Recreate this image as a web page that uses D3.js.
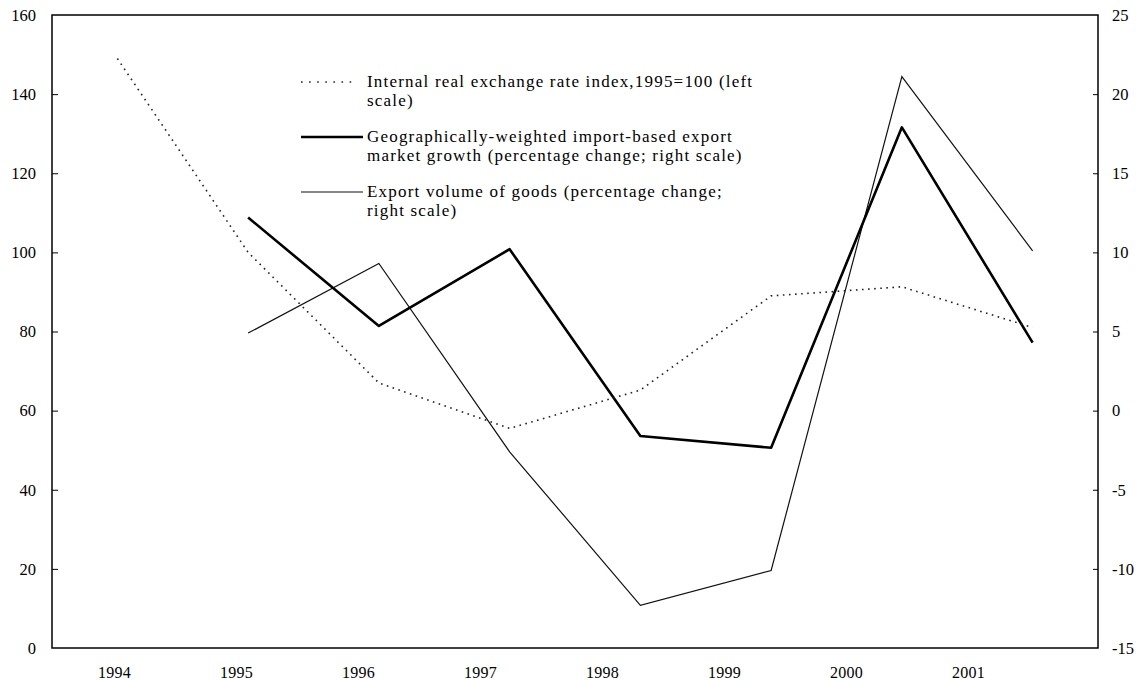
<!doctype html>
<html lang="en">
  <head>
    <meta charset="utf-8">
    <title>Exchange rate, export markets and export volume</title>
    <style>
      body { margin: 0; background: #fff; }
      text { font-family: "Liberation Serif", "DejaVu Serif", serif; fill: #000; }
    </style>
  </head>
  <body>
    <script src="https://cdn.jsdelivr.net/npm/d3@7"></script>
    <script>

    var years = ["1994", "1995", "1996", "1997", "1998", "1999", "2000", "2001"];

    // left scale
    var exchangeRate = [149, 100, 67, 55.5, 65.2, 89, 91.3, 81];
    // right scale (1994 has no value)
    var marketGrowth = [null, 12.2, 5.35, 10.2, -1.6, -2.35, 17.9, 4.3];
    var exportVolume = [null, 4.9, 9.3, -2.6, -12.3, -10.1, 21.1, 10.1];

    var leftTicks  = [0, 20, 40, 60, 80, 100, 120, 140, 160];
    var rightTicks = [-15, -10, -5, 0, 5, 10, 15, 20, 25];

    var legendLabels = [
      ["Internal real exchange rate index,1995=100 (left", "scale)"],
      ["Geographically-weighted import-based export", "market growth (percentage change; right scale)"],
      ["Export volume of goods (percentage change;", "right scale)"]
    ];

    var totalW = 1141, totalH = 680;
    var margin = {top: 15, right: 43, bottom: 32, left: 52},
        width  = totalW - margin.left - margin.right,
        height = totalH - margin.top - margin.bottom;

    var svg = d3.select("body")
      .append("svg")
      .attr("width", totalW)
      .attr("height", totalH);

    var chart = svg.append("g")
      .attr("transform", "translate(" + margin.left + "," + margin.top + ")");

    // data sit at band centres, the year labels are spaced a little tighter
    var x = d3.scaleBand().domain(years).range([0, width]);
    var xLabel = d3.scalePoint().domain(years).range([62, 916]);

    var yL = d3.scaleLinear().domain([0, 160]).range([height, 0]);
    var yR = d3.scaleLinear().domain([-15, 25]).range([height, 0]);

    var cx = function(i){ return x(years[i]) + x.bandwidth() / 2; };

    // axes
    var leftAxis = chart.append("g")
      .call(d3.axisLeft(yL).tickValues(leftTicks).tickFormat(String).tickSize(-6).tickPadding(16));
    var rightAxis = chart.append("g")
      .attr("transform", "translate(" + width + ",0)")
      .call(d3.axisRight(yR).tickValues(rightTicks).tickFormat(String).tickSize(-5).tickPadding(14));
    var bottomAxis = chart.append("g")
      .attr("transform", "translate(0," + height + ")")
      .call(d3.axisBottom(xLabel).tickSize(0).tickPadding(19));

    [leftAxis, rightAxis, bottomAxis].forEach(function(g){
      g.select(".domain").remove();
      g.selectAll("text").style("font-size", "16.5px");
      g.selectAll("line").attr("stroke", "#000");
    });
    bottomAxis.selectAll("text").style("font-size", "16px").style("letter-spacing", "0.3px");
    leftAxis.selectAll(".tick").filter(function(d){ return d === 160 || d === 0; }).select("line").remove();
    rightAxis.selectAll(".tick").filter(function(d){ return d === 25 || d === -15; }).select("line").remove();

    chart.append("rect")
      .attr("width", width)
      .attr("height", height)
      .attr("fill", "none")
      .attr("stroke", "#000")
      .attr("stroke-width", 1.5);

    // lines
    var lineL = d3.line()
      .defined(function(d){ return d != null; })
      .x(function(d, i){ return cx(i); })
      .y(function(d){ return yL(d); });

    var lineR = d3.line()
      .defined(function(d){ return d != null; })
      .x(function(d, i){ return cx(i); })
      .y(function(d){ return yR(d); });

    chart.append("path")
      .datum(exportVolume)
      .attr("d", lineR)
      .attr("fill", "none")
      .attr("stroke", "#111")
      .attr("stroke-width", 1.2);

    chart.append("path")
      .datum(marketGrowth)
      .attr("d", lineR)
      .attr("fill", "none")
      .attr("stroke", "#000")
      .attr("stroke-width", 2.6)
      .attr("stroke-linejoin", "round");

    chart.append("path")
      .datum(exchangeRate)
      .attr("d", lineL)
      .attr("fill", "none")
      .attr("stroke", "#222")
      .attr("stroke-width", 1.6)
      .attr("stroke-dasharray", "1.6,4.5");

    // legend
    var legendStyles = [
      {w: 1.6, dash: "1.6,6.5", color: "#222"},
      {w: 2.6, dash: null, color: "#000"},
      {w: 1.2, dash: null, color: "#111"}
    ];

    var legend = svg.append("g").attr("transform", "translate(301,82)");

    var item = legend.selectAll(".item")
      .data(legendLabels)
      .enter()
      .append("g")
      .attr("class", "item")
      .attr("transform", function(d, i){ return "translate(0," + (i * 55) + ")"; });

    item.append("line")
      .attr("x1", 0)
      .attr("x2", function(d, i){ return i === 0 ? 56 : 62; })
      .attr("stroke", function(d, i){ return legendStyles[i].color; })
      .attr("stroke-width", function(d, i){ return legendStyles[i].w; })
      .attr("stroke-dasharray", function(d, i){ return legendStyles[i].dash; });

    item.append("text")
      .attr("x", 66)
      .attr("y", 5)
      .style("font-size", "17px")
      .style("letter-spacing", "1.2px")
      .selectAll("tspan")
      .data(function(d){ return d; })
      .enter()
      .append("tspan")
      .attr("x", 66)
      .attr("dy", function(d, i){ return i === 0 ? 0 : 19; })
      .text(function(d){ return d; });

    </script>
  </body>
</html>
